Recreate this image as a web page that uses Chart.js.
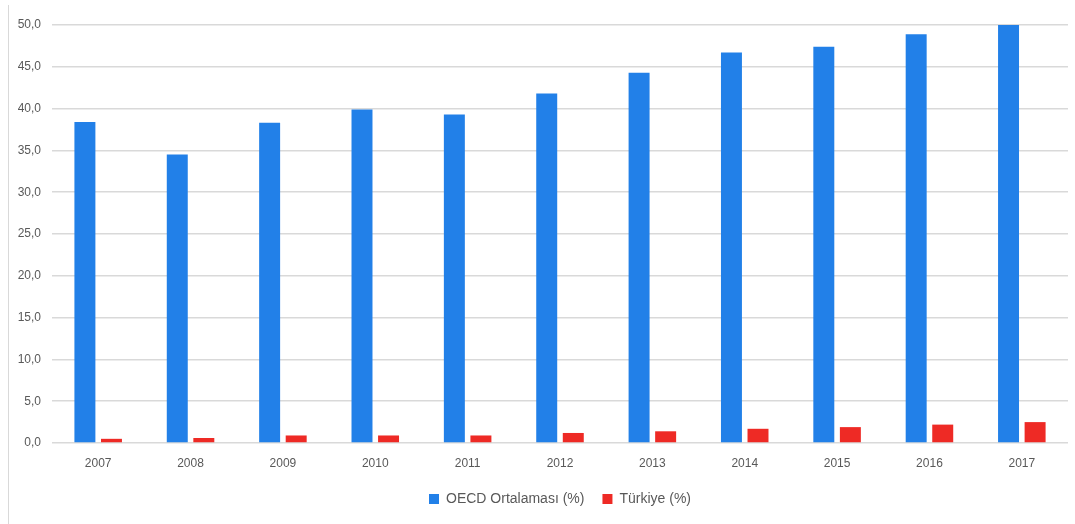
<!DOCTYPE html>
<html>
<head>
<meta charset="utf-8">
<script src="https://cdn.jsdelivr.net/npm/chart.js@4/dist/chart.umd.min.js"></script>
<style>
  html, body { margin: 0; padding: 0; background: #ffffff; }
  #wrap { position: relative; width: 1075px; height: 524px; }
  #edge { position: absolute; left: 8px; top: 5px; width: 0; height: 519px; border-left: 1px solid #d9d9d9; }
  canvas { position: absolute; left: 0; top: 0; }
</style>
</head>
<body>
<div id="wrap">
  <div id="edge"></div>
  <canvas id="c" width="1075" height="524"></canvas>
</div>
<script>
// Years on the category axis
const years = ['2007', '2008', '2009', '2010', '2011', '2012', '2013', '2014', '2015', '2016', '2017'];
// OECD average (%)
const oecdValues = [38.4, 34.5, 38.3, 39.9, 39.3, 41.8, 44.3, 46.7, 47.4, 48.9, 50.0];
// Turkey (%)
const turkeyValues = [0.5, 0.6, 0.9, 0.9, 0.9, 1.2, 1.4, 1.7, 1.9, 2.2, 2.5];
// Series names
const seriesNames = ['OECD Ortalaması (%)', 'Türkiye (%)'];

const textColor = '#595959';
const gridColor = '#d9d9d9';
const fontFamily = "'Liberation Sans', Arial, sans-serif";

new Chart(document.getElementById('c'), {
  type: 'bar',
  data: {
    labels: years,
    datasets: [
      {
        label: seriesNames[0],
        data: oecdValues,
        backgroundColor: '#2280e8',
        categoryPercentage: 0.575,
        barPercentage: 0.79
      },
      {
        label: seriesNames[1],
        data: turkeyValues,
        backgroundColor: '#ee2a25',
        categoryPercentage: 0.575,
        barPercentage: 0.79
      }
    ]
  },
  options: {
    responsive: false,
    animation: false,
    layout: { padding: { top: 25, right: 7, bottom: 8, left: 0 } },
    plugins: {
      tooltip: { enabled: false },
      legend: {
        position: 'bottom',
        fullSize: false,
        labels: {
          boxWidth: 10,
          boxHeight: 10,
          padding: 18,
          color: textColor,
          font: { family: fontFamily, size: 14 }
        }
      }
    },
    scales: {
      x: {
        grid: { display: false, drawTicks: false },
        border: { display: false },
        ticks: { color: textColor, font: { family: fontFamily, size: 12 }, padding: 13 },
        afterFit: (s) => { s.height = 31; }
      },
      y: {
        min: 0,
        max: 50,
        ticks: {
          stepSize: 5,
          color: textColor,
          font: { family: fontFamily, size: 12 },
          padding: 11,
          callback: (v) => v.toFixed(1).replace('.', ',')
        },
        grid: { color: gridColor, lineWidth: 1.5, drawTicks: false },
        border: { display: false },
        afterFit: (s) => { s.width = 52; }
      }
    }
  }
});
</script>
</body>
</html>
